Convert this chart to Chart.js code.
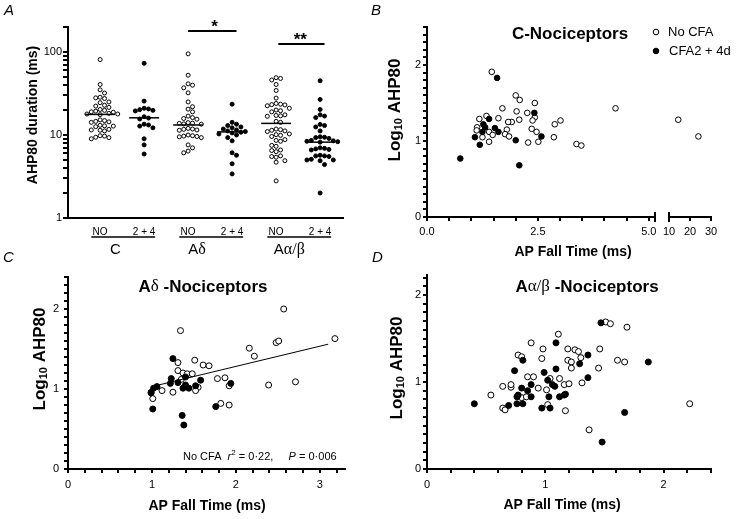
<!DOCTYPE html>
<html>
<head>
<meta charset="utf-8">
<script src="https://cdn.jsdelivr.net/npm/chart.js@4.4.0/dist/chart.umd.min.js"></script>
<style>
  body { margin: 0; background: #fff; }
  #page { position: relative; width: 750px; height: 519px; overflow: hidden; background: #fff; }
  canvas { position: absolute; }
  .panel { position: absolute; font: italic 15px 'Liberation Sans', Arial, sans-serif; line-height: 16px; }
</style>
</head>
<body>
<div id="page">
  <canvas id="chartA" width="375" height="260" style="left:0;top:0"></canvas>
  <canvas id="chartB" width="375" height="260" style="left:375px;top:0"></canvas>
  <canvas id="chartC" width="375" height="259" style="left:0;top:260px"></canvas>
  <canvas id="chartD" width="375" height="259" style="left:375px;top:260px"></canvas>
  <div class="panel" style="left:4px;top:2px">A</div>
  <div class="panel" style="left:371px;top:2px">B</div>
  <div class="panel" style="left:3px;top:249px">C</div>
  <div class="panel" style="left:372px;top:249px">D</div>
</div>
<script>
const SANS = "'Liberation Sans', Arial, sans-serif"
const SERIF = "'Liberation Serif', 'DejaVu Serif', serif"

/*--------------------------------------------
  Data
---------------------------------------------*/
// A: AHP80 duration (ms) per group
const colLabels = ['NO', '2 + 4', 'NO', '2 + 4', 'NO', '2 + 4']
const cNoCfa = [81, 40.6, 35, 32, 28, 28.5, 27.5, 24.5, 25, 22.3, 22.8, 21.5, 19.4, 19.8, 20.3, 19, 18.8, 17.9, 18.2, 17.6, 17.9, 14.6, 14.9, 14.2, 15.2, 14.4, 12.8, 13.1, 12.6, 12.9, 11.4, 11.7, 11.2, 11.5, 9.7, 9.3, 9.0, 9.4, 9.8]
const cCfa24 = [73, 25.6, 21, 20.2, 19.5, 20.6, 19.8, 16, 16.6, 15.6, 13.2, 12.2, 12.8, 13.5, 9.0, 7.6, 5.9]
const adNoCfa = [95, 52.5, 41.3, 39.8, 37, 32.2, 25, 21.9, 20.5, 19, 16.9, 15.8, 16.2, 15.5, 13.8, 14.1, 13.5, 13.9, 13.6, 11.7, 12, 11.4, 11.8, 11.5, 9.7, 10, 9.5, 9.8, 9.6, 9.3, 7.6, 7.0, 6.4, 6.1]
const adCfa24 = [23.5, 14.2, 13.5, 13, 12.5, 12.2, 11.8, 11.5, 11.2, 11, 10.8, 10.6, 10.3, 10, 9.3, 8.5, 6.1, 5.7, 4.5, 3.4]
const aabNoCfa = [48, 46, 49, 40.6, 34.4, 27.8, 23.5, 23.2, 24, 22.5, 23, 20, 19.6, 21, 19, 17.2, 17, 17.5, 16.8, 14.6, 14.2, 11.4, 11.6, 11.2, 11.8, 11, 9.9, 10.1, 10.3, 9.6, 8.6, 8.8, 8.4, 7.5, 7.3, 6.5, 6.6, 6.3, 5.6, 5.5, 5.4, 4.9, 4.7, 2.8]
const aabCfa24 = [45, 26.8, 20.3, 17.5, 16.9, 16.2, 13.4, 13, 12.5, 11.2, 9.3, 9.5, 9.1, 9.4, 8.4, 8.5, 8.2, 8.6, 8.3, 6.8, 7, 6.7, 6.9, 6.6, 5.6, 5.7, 5.5, 5.6, 5.0, 5.1, 4.9, 5.0, 4.4, 2.0]
const groupMedians = [17.7, 16.1, 13.2, 10.9, 13.8, 8.2]

// B: C-nociceptors, [AP fall time (ms), log10 AHP80]
const bNoCfa = [[1.46, 1.91], [2.0, 1.6], [2.09, 1.54], [2.43, 1.5], [1.7, 1.43], [2.02, 1.39], [2.26, 1.37], [2.43, 1.31], [1.34, 1.33], [1.61, 1.3], [1.18, 1.29], [2.08, 1.28], [1.91, 1.25], [1.83, 1.25], [2.38, 1.27], [2.88, 1.22], [3.01, 1.27], [1.13, 1.18], [1.8, 1.15], [2.36, 1.16], [1.12, 1.14], [1.4, 1.12], [1.48, 1.08], [1.25, 1.05], [1.76, 1.09], [1.85, 1.06], [2.47, 1.12], [2.51, 0.99], [2.28, 0.98], [1.4, 0.99], [2.86, 1.05], [3.37, 0.96], [3.48, 0.94], [4.25, 1.43]]
const bNoCfaLong = [[14.4, 1.28], [24, 1.06]]
const bCfa = [[0.75, 0.77], [1.08, 1.05], [1.19, 0.95], [1.25, 1.12], [1.27, 1.22], [1.31, 1.18], [1.4, 1.29], [1.53, 1.17], [1.61, 1.12], [1.58, 1.83], [2.0, 1.01], [2.08, 0.68], [2.42, 1.37], [2.58, 1.06]]

// C: A-delta nociceptors
const cdNoCfa = [[1.34, 1.73], [2.57, 2.0], [3.18, 1.63], [2.48, 1.58], [2.51, 1.6], [2.16, 1.51], [2.22, 1.41], [1.51, 1.36], [1.31, 1.33], [1.61, 1.3], [1.68, 1.29], [1.31, 1.23], [1.37, 1.2], [1.42, 1.19], [1.48, 1.19], [1.78, 1.13], [1.87, 1.14], [1.55, 1.02], [1.35, 1.12], [1.92, 1.04], [2.39, 1.05], [2.71, 1.09], [1.12, 0.98], [0.99, 0.96], [1.01, 0.88], [1.25, 0.96], [1.52, 0.98], [1.82, 0.82], [1.92, 0.8]]
const cdCfa = [[1.25, 1.38], [1.23, 1.13], [1.22, 1.07], [1.31, 1.08], [1.4, 1.15], [1.37, 1.01], [1.4, 1.05], [1.44, 1.01], [1.58, 1.11], [1.52, 1.04], [1.94, 1.07], [1.02, 1.01], [1.06, 1.03], [0.99, 0.95], [1.01, 0.75], [1.36, 0.67], [1.38, 0.55], [1.76, 0.78]]
const cdFit = [[1.0, 1.03], [3.1, 1.56]]

// D: A-alpha/beta nociceptors
const dNoCfa = [[0.54, 0.85], [0.64, 0.95], [0.71, 0.94], [0.71, 0.97], [0.64, 0.7], [0.66, 0.68], [0.77, 1.31], [0.8, 1.29], [0.88, 1.45], [0.85, 1.06], [0.9, 1.06], [0.8, 0.82], [0.84, 0.83], [0.98, 1.38], [0.97, 1.27], [0.94, 0.93], [1.01, 0.91], [1.04, 1.04], [1.02, 0.74], [1.11, 1.55], [1.12, 1.04], [1.16, 0.97], [1.2, 0.98], [1.19, 1.38], [1.25, 1.37], [1.28, 1.35], [1.19, 1.25], [1.22, 1.23], [1.22, 1.16], [1.3, 1.28], [1.31, 0.99], [1.17, 0.67], [1.37, 0.45], [1.46, 1.38], [1.45, 1.16], [1.51, 1.69], [1.55, 1.67], [1.61, 1.25], [1.67, 1.23], [1.69, 1.63], [2.22, 0.75]]
const dCfa = [[0.4, 0.75], [0.69, 0.73], [0.74, 1.13], [0.76, 0.83], [0.76, 0.75], [0.77, 0.85], [0.8, 0.93], [0.81, 1.25], [0.81, 0.75], [0.85, 0.9], [0.88, 0.97], [0.88, 0.83], [0.97, 0.7], [0.99, 1.11], [1.02, 1.02], [1.06, 0.97], [1.08, 0.95], [1.03, 0.83], [1.04, 0.7], [1.09, 1.45], [1.09, 1.15], [1.12, 0.83], [1.16, 0.85], [1.17, 0.86], [1.29, 1.21], [1.36, 1.31], [1.36, 1.05], [1.47, 1.68], [1.67, 0.65], [1.48, 0.31], [1.87, 1.23]]

/*--------------------------------------------
  Helpers
---------------------------------------------*/
const toXY = (pairs) => pairs.map(([x, y]) => ({ x, y }))

// tick mark positions between min and max
const steps = (min, max, step) => Array.from({ length: Math.floor((max - min) / step + 1e-9) + 1 }, (_, i) => min + i * step)

// Simple beeswarm so points in a column don't overlap
const SWARM_DX = 0.1
const SWARM_DY = 0.06
function swarm(values, pos) {
  const placed = []
  return values
    .slice()
    .sort((a, b) => b - a)
    .map((v) => {
      const ly = Math.log10(v)
      for (let k = 0; ; k++) {
        const off = Math.ceil(k / 2) * (k % 2 ? 1 : -1) * SWARM_DX
        const hit = placed.some((p) => Math.abs(p.ly - ly) < SWARM_DY && Math.abs(p.off - off) < SWARM_DX * 0.99)
        if (!hit) {
          placed.push({ ly, off })
          return { x: pos + off, y: v }
        }
      }
    })
}

const openPts = (data, r, axis) => ({ data, xAxisID: axis || 'x', pointRadius: r, pointBackgroundColor: '#fff', pointBorderColor: '#000', pointBorderWidth: 1 })
const filledPts = (data, r, axis) => ({ data, xAxisID: axis || 'x', pointRadius: r, pointBackgroundColor: '#000', pointBorderColor: '#000', pointBorderWidth: 1 })

// tick marks are drawn by the decor plugin, grid only reserves their length
function linAxis(o) {
  return {
    type: 'linear',
    position: o.position,
    min: o.min,
    max: o.max,
    stack: o.stack,
    stackWeight: o.weight,
    border: { color: '#000', width: 2 },
    grid: { display: false, drawTicks: true, tickLength: 4 },
    ticks: {
      stepSize: o.step,
      autoSkip: false,
      maxRotation: 0,
      includeBounds: false,
      padding: o.pad,
      color: '#000',
      font: { size: 11 },
      callback: (v) => (o.labels.some((l) => Math.abs(l - v) < 1e-6) ? o.fmt(v) : ''),
    },
    afterFit: (s) => {
      if (s.isHorizontal()) s.height = o.size
      else s.width = o.size
    },
  }
}

// Draws tick marks, titles, legend, annotations
function makeDecor(cfg) {
  return {
    id: 'decor',
    afterDraw(chart) {
      const { ctx } = chart
      const xs = chart.scales.x
      ctx.save()
      ctx.fillStyle = '#000'
      ctx.strokeStyle = '#000'

      for (const a of cfg.ticks || []) {
        const s = chart.scales[a.id]
        const horiz = s.isHorizontal()
        const edge = Math.round(horiz ? s.top : s.right)
        for (const v of a.values) {
          const p = Math.round(s.getPixelForValue(v))
          if (horiz) ctx.fillRect(p - 1, edge, 2, a.len)
          else ctx.fillRect(edge - a.len, p - 1, a.len, 2)
        }
      }
      for (const b of cfg.bars || []) {
        const s = chart.scales[b.id]
        const p = Math.round(s.getPixelForValue(b.value))
        ctx.fillRect(p - 1, Math.round(s.top) - 5, 2, 10)
      }

      for (const l of cfg.lines || []) {
        ctx.lineWidth = l.w
        ctx.beginPath()
        ctx.moveTo(xs.getPixelForValue(l.x1), l.y)
        ctx.lineTo(xs.getPixelForValue(l.x2), l.y)
        ctx.stroke()
      }
      for (const m of cfg.marks || []) {
        ctx.lineWidth = 1
        ctx.beginPath()
        ctx.arc(m.x, m.y, 2.8, 0, Math.PI * 2)
        ctx.fillStyle = m.filled ? '#000' : '#fff'
        ctx.fill()
        ctx.stroke()
      }
      ctx.fillStyle = '#000'
      ctx.textBaseline = 'middle'
      ctx.textAlign = 'left'
      for (const t of cfg.texts || []) {
        const x = t.xv !== undefined ? xs.getPixelForValue(t.xv) : t.x
        let w = 0
        for (const r of t.runs) {
          ctx.font = r.f
          w += ctx.measureText(r.s).width
        }
        ctx.save()
        ctx.translate(x, t.y)
        if (t.rot) ctx.rotate(t.rot)
        let cx = t.align === 'left' ? 0 : -w / 2
        for (const r of t.runs) {
          ctx.font = r.f
          ctx.fillText(r.s, cx, r.dy || 0)
          cx += ctx.measureText(r.s).width
        }
        ctx.restore()
      }
      ctx.restore()
    },
  }
}

function scatterChart(id, datasets, scales, padding, decorCfg) {
  return new Chart(document.getElementById(id), {
    type: 'scatter',
    data: { datasets },
    options: {
      responsive: false,
      animation: false,
      events: [],
      layout: { padding },
      scales,
      plugins: { legend: { display: false }, tooltip: { enabled: false } },
    },
    plugins: [makeDecor(decorCfg)],
  })
}

Chart.defaults.font.family = SANS
Chart.defaults.color = '#000'

const ROT = -Math.PI / 2
const logTitle = [
  { s: 'Log', f: `bold 17px ${SANS}` },
  { s: '10', f: `bold 11px ${SANS}`, dy: 4 },
  { s: ' AHP80', f: `bold 17px ${SANS}` },
]
const fallTitle = [{ s: 'AP Fall Time (ms)', f: `bold 14px ${SANS}` }]
const intLabel = (v) => String(Math.round(v))

/*--------------------------------------------
  A: AHP80 duration by group
---------------------------------------------*/
const groups = [cNoCfa, cCfa24, adNoCfa, adCfa24, aabNoCfa, aabCfa24]
const MED_HALF = 0.34
const logTicks = []
for (let d = 1; d <= 100; d *= 10) {
  for (let m = 1; m <= 9; m++) if (d * m <= 200) logTicks.push(d * m)
}

scatterChart(
  'chartA',
  [
    ...groupMedians.map((m, i) => ({
      data: [{ x: i - MED_HALF, y: m }, { x: i + MED_HALF, y: m }],
      showLine: true,
      borderColor: '#000',
      borderWidth: 1.5,
      pointRadius: 0,
    })),
    ...groups.map((vals, i) => (i % 2 ? filledPts(swarm(vals, i), 2) : openPts(swarm(vals, i), 2))),
  ],
  {
    x: {
      type: 'linear',
      min: -0.73,
      max: 5.52,
      border: { color: '#000', width: 2 },
      grid: { display: false, drawTicks: false },
      afterBuildTicks: (s) => {
        s.ticks = colLabels.map((_, i) => ({ value: i }))
      },
      ticks: { autoSkip: false, maxRotation: 0, padding: 8, font: { size: 10 }, callback: (v) => colLabels[Math.round(v)] },
      afterFit: (s) => {
        s.height = 42
      },
    },
    y: {
      type: 'logarithmic',
      min: 1,
      max: 200,
      border: { color: '#000', width: 2 },
      grid: { display: false, drawTicks: true, tickLength: 5 },
      afterBuildTicks: (s) => {
        s.ticks = logTicks.map((value) => ({ value }))
      },
      ticks: { autoSkip: false, padding: 1, font: { size: 11 }, callback: (v) => ([1, 10, 100].includes(v) ? String(v) : '') },
      afterFit: (s) => {
        s.width = 68
      },
    },
  },
  { left: 0, top: 27, right: 32, bottom: 0 },
  {
    ticks: [{ id: 'y', len: 5, values: logTicks }],
    lines: [
      { x1: 2.0, x2: 3.1, y: 31, w: 2 },
      { x1: 4.05, x2: 5.1, y: 44, w: 2 },
      { x1: -0.2, x2: 1.25, y: 237, w: 1.5 },
      { x1: 1.8, x2: 3.25, y: 237, w: 1.5 },
      { x1: 3.8, x2: 5.25, y: 237, w: 1.5 },
    ],
    texts: [
      { x: 33, y: 115, rot: ROT, runs: [{ s: 'AHP80 duration (ms)', f: `bold 14px ${SANS}` }] },
      { xv: 2.6, y: 27, runs: [{ s: '*', f: `bold 17px ${SANS}` }] },
      { xv: 4.55, y: 40, runs: [{ s: '**', f: `bold 17px ${SANS}` }] },
      { xv: 0.35, y: 250, runs: [{ s: 'C', f: `15px ${SANS}` }] },
      { xv: 2.2, y: 250, runs: [{ s: 'A', f: `15px ${SANS}` }, { s: 'δ', f: `16px ${SERIF}` }] },
      { xv: 4.3, y: 250, runs: [{ s: 'A', f: `15px ${SANS}` }, { s: 'α/β', f: `16px ${SERIF}` }] },
    ],
  }
)

/*--------------------------------------------
  B: C-nociceptors (broken x axis)
---------------------------------------------*/
scatterChart(
  'chartB',
  [filledPts(toXY(bCfa), 2.8), openPts(toXY(bNoCfa), 2.8), openPts(toXY(bNoCfaLong), 2.8, 'x2')],
  {
    x: linAxis({ position: 'bottom', min: 0, max: 5.14, step: 0.5, labels: [0, 2.5, 5], fmt: (v) => v.toFixed(1), size: 43, pad: 4, stack: 'bx', weight: 228 }),
    xgap: {
      type: 'linear',
      position: 'bottom',
      stack: 'bx',
      stackWeight: 14,
      border: { display: false },
      grid: { display: false },
      ticks: { display: false },
      afterFit: (s) => {
        s.height = 43
      },
    },
    x2: linAxis({ position: 'bottom', min: 10, max: 30, step: 10, labels: [10, 20, 30], fmt: intLabel, size: 43, pad: 4, stack: 'bx', weight: 42 }),
    y: linAxis({ position: 'left', min: 0, max: 2.5, step: 0.1, labels: [0, 1, 2], fmt: intLabel, size: 52, pad: 2 }),
  },
  { left: 0, top: 27, right: 39, bottom: 0 },
  {
    ticks: [
      { id: 'x', len: 4, values: steps(0, 5, 0.5) },
      { id: 'x2', len: 4, values: steps(10, 30, 10) },
      { id: 'y', len: 4, values: steps(0, 2.5, 0.1) },
    ],
    bars: [
      { id: 'x', value: 5.14 },
      { id: 'x2', value: 10 },
    ],
    marks: [
      { x: 281, y: 32, filled: false },
      { x: 281, y: 51, filled: true },
    ],
    texts: [
      { x: 195, y: 34, runs: [{ s: 'C-Nociceptors', f: `bold 17px ${SANS}` }] },
      { x: 293, y: 32, align: 'left', runs: [{ s: 'No CFA', f: `13px ${SANS}` }] },
      { x: 294, y: 51, align: 'left', runs: [{ s: 'CFA2 + 4d', f: `13px ${SANS}` }] },
      { x: 20, y: 110, rot: ROT, runs: logTitle },
      { x: 198, y: 252, runs: fallTitle },
    ],
  }
)

/*--------------------------------------------
  C: A-delta nociceptors
---------------------------------------------*/
scatterChart(
  'chartC',
  [
    { data: toXY(cdFit), showLine: true, borderColor: '#000', borderWidth: 1, pointRadius: 0 },
    filledPts(toXY(cdCfa), 3),
    openPts(toXY(cdNoCfa), 3),
  ],
  {
    x: linAxis({ position: 'bottom', min: 0, max: 3.3, step: 0.2, labels: [0, 1, 2, 3], fmt: intLabel, size: 50, pad: 5 }),
    y: linAxis({ position: 'left', min: 0, max: 2.4, step: 0.1, labels: [0, 1, 2], fmt: intLabel, size: 68, pad: 5 }),
  },
  { left: 0, top: 17, right: 30, bottom: 0 },
  {
    ticks: [
      { id: 'x', len: 4, values: steps(0, 3.3, 0.2) },
      { id: 'y', len: 4, values: steps(0, 2.4, 0.1) },
    ],
    texts: [
      { x: 203, y: 27, runs: [{ s: 'A', f: `bold 17px ${SANS}` }, { s: 'δ', f: `17px ${SERIF}` }, { s: ' -Nociceptors', f: `bold 17px ${SANS}` }] },
      { x: 40, y: 99, rot: ROT, runs: logTitle },
      { x: 207, y: 246, runs: fallTitle },
      {
        x: 183,
        y: 197,
        align: 'left',
        runs: [
          { s: 'No CFA  ', f: `11px ${SANS}` },
          { s: 'r', f: `italic 11px ${SANS}` },
          { s: '2', f: `8px ${SANS}`, dy: -4 },
          { s: ' = 0·22,     ', f: `11px ${SANS}` },
          { s: 'P', f: `italic 11px ${SANS}` },
          { s: ' = 0·006', f: `11px ${SANS}` },
        ],
      },
    ],
  }
)

/*--------------------------------------------
  D: A-alpha/beta nociceptors
---------------------------------------------*/
scatterChart(
  'chartD',
  [filledPts(toXY(dCfa), 3), openPts(toXY(dNoCfa), 3)],
  {
    x: linAxis({ position: 'bottom', min: 0, max: 2.4, step: 0.2, labels: [0, 1, 2], fmt: intLabel, size: 50, pad: 5 }),
    y: linAxis({ position: 'left', min: 0, max: 2.23, step: 0.1, labels: [0, 1, 2], fmt: intLabel, size: 52, pad: 2 }),
  },
  { left: 0, top: 15, right: 39, bottom: 0 },
  {
    ticks: [
      { id: 'x', len: 4, values: steps(0, 2.4, 0.2) },
      { id: 'y', len: 4, values: steps(0, 2.2, 0.1) },
    ],
    texts: [
      { x: 212, y: 27, runs: [{ s: 'A', f: `bold 17px ${SANS}` }, { s: 'α/β', f: `17px ${SERIF}` }, { s: ' -Nociceptors', f: `bold 17px ${SANS}` }] },
      { x: 22, y: 108, rot: ROT, runs: logTitle },
      { x: 187, y: 245, runs: fallTitle },
    ],
  }
)
</script>
</body>
</html>
